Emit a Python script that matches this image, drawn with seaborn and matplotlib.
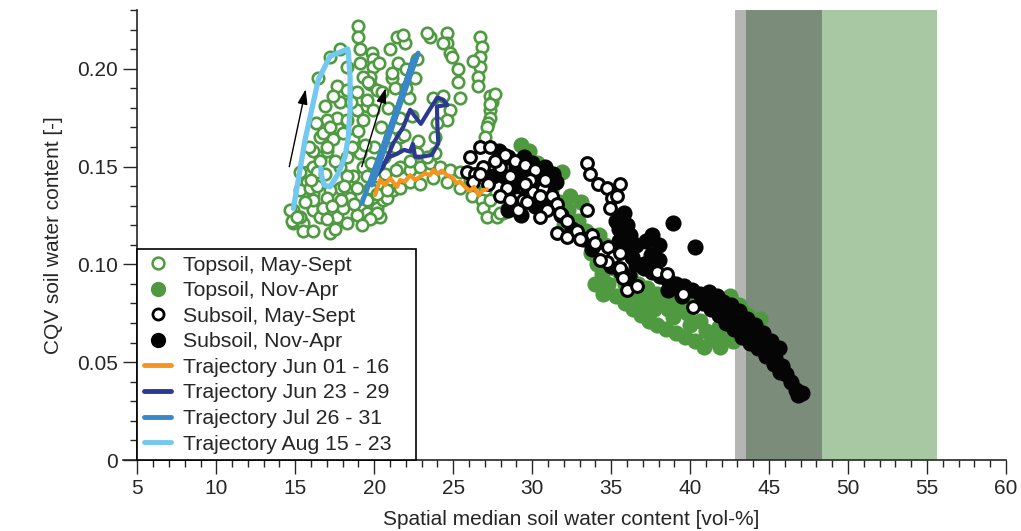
import matplotlib
matplotlib.use("Agg")
import matplotlib.pyplot as plt
from matplotlib.lines import Line2D
from matplotlib.ticker import MultipleLocator, FuncFormatter
import numpy as np
import pandas as pd
import seaborn as sns

# ---------------- data ----------------
# Topsoil, May-Sept (spatial median SWC [vol-%], CQV [-])
top_summer_x = [
    14.86, 14.86, 15.50, 15.30, 16.12, 16.76, 17.20, 16.57, 17.65, 18.03, 18.47, 18.91, 18.66, 18.28,
    17.84, 17.20, 17.01, 16.12, 15.75, 15.75, 16.12, 16.57, 17.01, 17.39, 17.65, 17.65, 17.84, 18.91,
    19.29, 19.54, 18.66, 19.10, 19.29, 16.57, 16.12, 15.30, 15.30, 17.84, 18.28, 18.28, 17.01, 19.54,
    19.73, 19.54, 19.54, 20.17, 20.55, 19.92, 20.37, 20.81, 21.19, 21.64, 20.17,
    16.44, 17.20, 17.84, 18.28, 18.98, 18.98, 19.10, 19.10, 19.86, 19.92, 19.92, 19.73, 17.65, 18.28,
    18.91, 19.29, 19.73, 20.17, 19.54, 19.92, 21.12, 21.50, 21.44, 21.95, 21.82, 23.54, 23.35, 24.61,
    24.61, 24.80, 24.93, 24.36, 26.70, 26.83, 26.70, 26.70, 26.26, 26.58, 26.58,
    27.34, 27.46, 27.34, 27.34, 27.21, 27.15, 27.65, 27.34, 27.02,
    21.64, 22.27, 22.90, 23.54, 24.17, 24.80, 25.44, 26.07, 26.70, 27.02, 22.27, 22.90, 23.73, 24.61,
    25.44, 26.20, 26.83,
    23.73, 24.36, 24.80, 24.61, 23.98, 23.86, 23.86, 23.35, 22.71, 22.27, 21.64, 22.71,
    26.89, 27.14, 27.78, 28.16, 28.41, 27.34, 20.17, 19.73, 27.97,
    14.67, 14.80, 15.50, 15.11, 16.12, 15.93, 16.38, 16.57, 17.01, 16.76, 17.20, 16.76, 17.01, 16.12,
    17.50, 18.30, 18.90, 19.20, 17.90, 16.40, 20.20, 20.60, 21.00, 20.40, 20.90, 21.30, 22.00, 21.60,
    22.20, 20.00, 19.80, 22.00, 22.60, 21.00,
    15.9, 16.3, 16.9, 17.4, 18.0, 18.6, 19.0, 15.6, 16.0, 16.9, 17.5, 18.1, 18.7, 19.4, 20.7, 21.3,
    21.9, 20.5, 21.1, 20.8, 21.4, 22.4, 22.8, 17.3, 18.5, 19.6, 20.3, 25.3, 25.3, 25.4,
]
top_summer_y = [
    0.128, 0.121, 0.121, 0.124, 0.128, 0.128, 0.116, 0.124, 0.124, 0.129, 0.134, 0.139, 0.145, 0.145,
    0.139, 0.138, 0.134, 0.136, 0.142, 0.147, 0.150, 0.155, 0.158, 0.164, 0.170, 0.175, 0.183, 0.179,
    0.174, 0.181, 0.164, 0.157, 0.150, 0.165, 0.158, 0.147, 0.138, 0.150, 0.155, 0.174, 0.174, 0.145,
    0.139, 0.133, 0.126, 0.129, 0.133, 0.124, 0.124, 0.134, 0.138, 0.139, 0.136,
    0.195, 0.206, 0.210, 0.201, 0.222, 0.216, 0.210, 0.203, 0.208, 0.205, 0.201, 0.196, 0.191, 0.189,
    0.188, 0.196, 0.192, 0.189, 0.184, 0.179, 0.195, 0.203, 0.216, 0.213, 0.217, 0.216, 0.218, 0.218,
    0.213, 0.208, 0.206, 0.213, 0.216, 0.211, 0.206, 0.201, 0.204, 0.196, 0.191,
    0.186, 0.183, 0.179, 0.175, 0.172, 0.170, 0.187, 0.182, 0.165,
    0.150, 0.148, 0.150, 0.152, 0.150, 0.148, 0.147, 0.143, 0.142, 0.138, 0.142, 0.141, 0.144, 0.142,
    0.139, 0.135, 0.133,
    0.185, 0.186, 0.179, 0.174, 0.172, 0.165, 0.157, 0.155, 0.157, 0.153, 0.165, 0.205,
    0.129, 0.124, 0.124, 0.126, 0.129, 0.133, 0.126, 0.123, 0.126,
    0.128, 0.122, 0.117, 0.124, 0.133, 0.139, 0.147, 0.153, 0.160, 0.167, 0.170, 0.129, 0.123, 0.117,
    0.118, 0.121, 0.125, 0.120, 0.133, 0.140, 0.145, 0.155, 0.165, 0.170, 0.180, 0.190, 0.200, 0.175,
    0.185, 0.160, 0.152, 0.190, 0.195, 0.210,
    0.160, 0.172, 0.181, 0.186, 0.167, 0.160, 0.168, 0.132, 0.143, 0.146, 0.153, 0.140, 0.131, 0.161,
    0.146, 0.160, 0.166, 0.188, 0.198, 0.138, 0.148, 0.176, 0.163, 0.130, 0.183, 0.193, 0.203, 0.200,
    0.193, 0.185,
]

# Topsoil, Nov-Apr
top_winter_x = [
    29.3, 29.8, 30.3, 30.9, 31.9, 31.2, 31.7, 32.3, 33.1, 32.9, 33.4, 33.8, 34.2, 34.6, 35.0, 33.7,
    34.1, 34.4, 34.8, 34.0, 34.5, 35.2, 35.6, 35.9, 36.3, 35.3, 35.9, 36.4, 36.9, 36.8, 37.3, 37.7,
    37.4, 37.9, 38.2, 38.6, 38.9, 38.5, 39.1, 39.4, 39.8, 40.0, 39.7, 40.3, 40.6, 41.0, 41.4, 40.9,
    41.9, 41.8, 42.3, 42.7, 42.2, 42.9, 43.3, 43.6, 44.4, 43.8, 36.2, 36.7, 37.3, 37.9, 38.5, 39.1,
    40.3, 43.1, 42.5, 32.4, 30.5, 32.0, 42.55, 43.4,
]
top_winter_y = [
    0.161, 0.158, 0.152, 0.146, 0.147, 0.138, 0.132, 0.128, 0.132, 0.122, 0.117, 0.113, 0.115, 0.110,
    0.106, 0.106, 0.100, 0.095, 0.090, 0.090, 0.085, 0.098, 0.094, 0.090, 0.086, 0.084, 0.080, 0.077,
    0.074, 0.083, 0.080, 0.077, 0.071, 0.069, 0.081, 0.077, 0.073, 0.067, 0.065, 0.079, 0.075, 0.069,
    0.063, 0.061, 0.071, 0.066, 0.062, 0.058, 0.058, 0.068, 0.064, 0.061, 0.072, 0.070, 0.066, 0.074,
    0.072, 0.064, 0.095, 0.090, 0.088, 0.085, 0.084, 0.083, 0.080, 0.079, 0.083, 0.135, 0.140, 0.120,
    0.084, 0.075,
]

# Subsoil, May-Sept
sub_summer_x = [
    26.70, 27.34, 26.07, 25.88, 26.39, 26.26, 26.89, 27.97, 28.41, 28.60, 29.05, 29.11, 29.43, 26.70,
    29.68, 30.06, 30.70, 31.27, 31.59, 30.95, 30.50, 31.77, 32.21, 31.59, 32.21, 32.84, 33.48, 33.03,
    33.79, 33.98, 34.49, 34.81, 35.13, 35.57, 35.76, 36.01, 36.64, 35.57, 37.91, 38.54, 39.56, 40.19,
    34.74, 34.30,
    33.48, 33.67, 34.17, 34.74, 35.57, 35.06, 34.93, 35.38,
    28.28, 28.92, 29.55, 30.19, 29.87, 30.82, 30.50, 29.55, 27.65, 27.21, 27.97, 28.60,
]
sub_summer_y = [
    0.160, 0.160, 0.155, 0.147, 0.146, 0.142, 0.150, 0.150, 0.139, 0.145, 0.134, 0.128, 0.133, 0.146,
    0.132, 0.137, 0.139, 0.135, 0.131, 0.128, 0.124, 0.126, 0.122, 0.116, 0.114, 0.117, 0.128, 0.113,
    0.115, 0.111, 0.106, 0.109, 0.104, 0.098, 0.093, 0.087, 0.089, 0.106, 0.096, 0.095, 0.085, 0.078,
    0.101, 0.102,
    0.152, 0.146, 0.141, 0.139, 0.141, 0.134, 0.129, 0.135,
    0.156, 0.153, 0.151, 0.148, 0.143, 0.143, 0.135, 0.141, 0.153, 0.141, 0.135, 0.133,
]

# Subsoil, Nov-Apr
sub_winter_x = [
    27.9, 28.5, 29.0, 29.5, 30.0, 28.2, 28.8, 29.3, 29.9, 30.4, 30.8, 28.5, 29.3, 30.2, 31.0, 31.5,
    27.5, 30.6, 31.2, 31.8, 28.9, 29.7, 30.1, 31.3,
    32.5, 33.2, 33.8, 34.4, 35.0, 35.6, 36.1,
    35.3, 35.5, 35.7, 36.0, 36.2, 35.5, 35.9, 36.3, 36.6, 35.8,
    37.2, 37.6, 38.0, 37.5, 38.0, 37.1, 38.9, 40.3,
    36.6, 37.1, 37.6, 38.1, 38.6, 39.1, 39.6, 40.1, 40.6, 41.0, 41.4, 41.8, 42.2, 42.6, 43.0, 43.4,
    43.8, 44.2, 44.6, 45.0, 45.4, 45.8, 46.1, 46.4, 46.7, 47.1, 46.8,
    40.8, 41.3, 41.8, 42.3, 42.8, 43.3, 43.8, 44.3, 44.8, 45.3, 45.7, 39.5, 38.6,
    41.2, 41.7, 42.1, 42.6, 43.1, 43.6, 44.1, 44.6, 45.1, 45.6,
]
sub_winter_y = [
    0.158, 0.155, 0.150, 0.155, 0.152, 0.145, 0.140, 0.145, 0.140, 0.145, 0.150, 0.128, 0.125, 0.130,
    0.138, 0.142, 0.145, 0.134, 0.130, 0.125, 0.134, 0.136, 0.147, 0.146,
    0.118, 0.113, 0.108, 0.103, 0.099, 0.096, 0.094,
    0.122, 0.118, 0.124, 0.120, 0.115, 0.112, 0.108, 0.104, 0.110, 0.126,
    0.112, 0.115, 0.110, 0.105, 0.102, 0.100, 0.121, 0.109,
    0.100, 0.098, 0.096, 0.094, 0.092, 0.090, 0.089, 0.087, 0.085, 0.083, 0.081, 0.079, 0.077, 0.074,
    0.071, 0.068, 0.065, 0.062, 0.059, 0.056, 0.052, 0.048, 0.044, 0.040, 0.036, 0.034, 0.033,
    0.080, 0.077, 0.074, 0.070, 0.067, 0.063, 0.060, 0.057, 0.053, 0.049, 0.045, 0.084, 0.087,
    0.086, 0.084, 0.081, 0.079, 0.076, 0.072, 0.069, 0.065, 0.061, 0.057,
]

# Event trajectories
traj_jun01_x = [20.05, 20.37, 20.68, 21.00, 21.44, 21.64, 21.95, 22.27, 22.59, 22.90, 23.22, 23.54,
                23.75, 24.00, 24.28, 24.59, 24.91, 25.18, 25.44, 25.75, 26.07, 26.32, 26.60, 26.87,
                27.13]
traj_jun01_y = [0.1354, 0.1431, 0.1405, 0.1441, 0.1396, 0.1431, 0.1422, 0.1456, 0.1431, 0.1448,
                0.1465, 0.1456, 0.1482, 0.1462, 0.1479, 0.1456, 0.1448, 0.1417, 0.1422, 0.1396,
                0.1376, 0.1396, 0.1354, 0.1379, 0.1383]
traj_jun23_x = [20.05, 20.58, 21.21, 21.85, 22.27, 22.59, 22.95, 23.43, 24.00, 24.38, 24.63, 23.97,
                24.00, 24.06, 23.64, 23.01, 22.59, 22.44, 22.27, 21.89, 21.43, 20.90, 20.48, 20.26]
traj_jun23_y = [0.1448, 0.1499, 0.1619, 0.1704, 0.1790, 0.1755, 0.1718, 0.1781, 0.1853, 0.1841,
                0.1815, 0.1807, 0.1704, 0.1619, 0.1559, 0.1550, 0.1550, 0.1615, 0.1576, 0.1585,
                0.1564, 0.1547, 0.1499, 0.1473]
traj_jul26_x = [19.21, 20.69, 22.78, 19.86, 22.46, 21.19, 22.65]
traj_jul26_y = [0.1311, 0.1636, 0.2080, 0.1405, 0.2046, 0.1723, 0.2062]
traj_aug15_x = [14.88, 15.62, 16.46, 17.20, 18.32, 18.36, 18.47, 18.47, 18.36, 18.15, 17.73, 17.20,
                16.84, 16.68, 16.61]
traj_aug15_y = [0.1286, 0.1636, 0.1944, 0.2063, 0.2101, 0.2081, 0.1961, 0.1790, 0.1653, 0.1550,
                0.1465, 0.1396, 0.1405, 0.1448, 0.1491]

# Arrows indicating direction of the wetting events (tail, head)
arrow_tails = [(14.62, 0.1499), (19.21, 0.1499)]
arrow_heads = [(15.66, 0.1895), (20.73, 0.1901)]

# Shaded porosity ranges [vol-%]
band_edges = [42.85, 43.55, 48.34, 55.63]
band_colors = ["#b5b5b5", "#7b8c7a", "#a8c8a4"]

# ---------------- style ----------------
sns.set_style("ticks")
plt.rcParams["font.family"] = ["Liberation Sans", "DejaVu Sans"]
plt.rcParams["font.size"] = 15

GREEN = "#4f9a41"
traj_colors = ["#f7941d", "#2b3990", "#3a87c8", "#72c8f0"]
traj_widths = [3.0, 3.0, 3.5, 3.8]
traj_labels = ["Trajectory Jun 01 - 16", "Trajectory Jun 23 - 29",
               "Trajectory Jul 26 - 31", "Trajectory Aug 15 - 23"]

fig = plt.figure(figsize=(10.21, 5.31), dpi=100)
ax = fig.add_axes([0.1345, 0.1337, 0.8508, 0.8475])

for lo, hi, c in zip(band_edges[:-1], band_edges[1:], band_colors):
    ax.axvspan(lo, hi, color=c, lw=0, zorder=0)

df_ts = pd.DataFrame({"swc": top_summer_x, "cqv": top_summer_y})
df_tw = pd.DataFrame({"swc": top_winter_x, "cqv": top_winter_y})
df_ss = pd.DataFrame({"swc": sub_summer_x, "cqv": sub_summer_y})
df_sw = pd.DataFrame({"swc": sub_winter_x, "cqv": sub_winter_y})

sns.scatterplot(data=df_ts, x="swc", y="cqv", ax=ax, s=68, facecolor="white",
                edgecolor=GREEN, linewidth=1.9, zorder=2, legend=False)
sns.scatterplot(data=df_tw, x="swc", y="cqv", ax=ax, s=135, color=GREEN,
                linewidth=0, zorder=3, legend=False)
sns.scatterplot(data=df_sw, x="swc", y="cqv", ax=ax, s=135, color="#050505",
                linewidth=0, zorder=4, legend=False)
sns.scatterplot(data=df_ss, x="swc", y="cqv", ax=ax, s=72, facecolor="white",
                edgecolor="#050505", linewidth=2.2, zorder=5, legend=False)

trajs = [(traj_jun01_x, traj_jun01_y), (traj_jun23_x, traj_jun23_y),
         (traj_jul26_x, traj_jul26_y), (traj_aug15_x, traj_aug15_y)]
for (tx, ty), col, w in zip(trajs, traj_colors, traj_widths):
    dft = pd.DataFrame({"swc": tx, "cqv": ty})
    sns.lineplot(data=dft, x="swc", y="cqv", ax=ax, sort=False, estimator=None,
                 color=col, lw=w, zorder=6, legend=False)

for tail, head in zip(arrow_tails, arrow_heads):
    ax.annotate("", xy=head, xytext=tail, zorder=7,
                arrowprops=dict(arrowstyle="-|>,head_length=0.6,head_width=0.2",
                                color="black", lw=1.0, shrinkA=0, shrinkB=0))

ax.set_xlim(5, 60)
ax.set_ylim(0, 0.23)
ax.xaxis.set_major_locator(MultipleLocator(5))
ax.xaxis.set_minor_locator(MultipleLocator(1))
ax.yaxis.set_major_locator(MultipleLocator(0.05))
ax.yaxis.set_minor_locator(MultipleLocator(0.01))
ax.yaxis.set_major_formatter(FuncFormatter(lambda v, p: "0" if abs(v) < 1e-9 else f"{v:.2f}"))
ax.tick_params(which="major", length=10, width=1.0, direction="out", labelsize=15, pad=4)
ax.tick_params(which="minor", length=5, width=1.0, direction="out")
for side in ["top", "right"]:
    ax.spines[side].set_visible(False)
for side in ["left", "bottom"]:
    ax.spines[side].set_linewidth(1.2)
# x axis line runs a little past the y axis, under its tick marks
ax.spines["bottom"].set_bounds(4.1, 60)
ax.set_xlabel("Spatial median soil water content [vol-%]", fontsize=15, labelpad=8)
ax.set_ylabel("CQV soil water content [-]", fontsize=15, labelpad=10)

handles = [
    Line2D([], [], ls="none", marker="o", ms=8.5, mfc="white", mec=GREEN, mew=1.8),
    Line2D([], [], ls="none", marker="o", ms=11, mfc=GREEN, mec=GREEN, mew=0),
    Line2D([], [], ls="none", marker="o", ms=8, mfc="white", mec="black", mew=2.0),
    Line2D([], [], ls="none", marker="o", ms=11, mfc="black", mec="black", mew=0),
] + [Line2D([], [], color=c, lw=3.5) for c in traj_colors]
labels = ["Topsoil, May-Sept", "Topsoil, Nov-Apr", "Subsoil, May-Sept", "Subsoil, Nov-Apr"] + traj_labels
leg = ax.legend(handles, labels, loc="lower left", bbox_to_anchor=(0, 0, 0.321, 0.46),
                mode="expand", borderaxespad=0,
                fancybox=False, frameon=True, edgecolor="black", framealpha=1, fontsize=15.3,
                handlelength=1.3, handletextpad=0.55, labelspacing=0.31, borderpad=0.3)
leg.get_frame().set_linewidth(1.2)
leg.set_zorder(10)

fig.savefig("out.png", dpi=100)
